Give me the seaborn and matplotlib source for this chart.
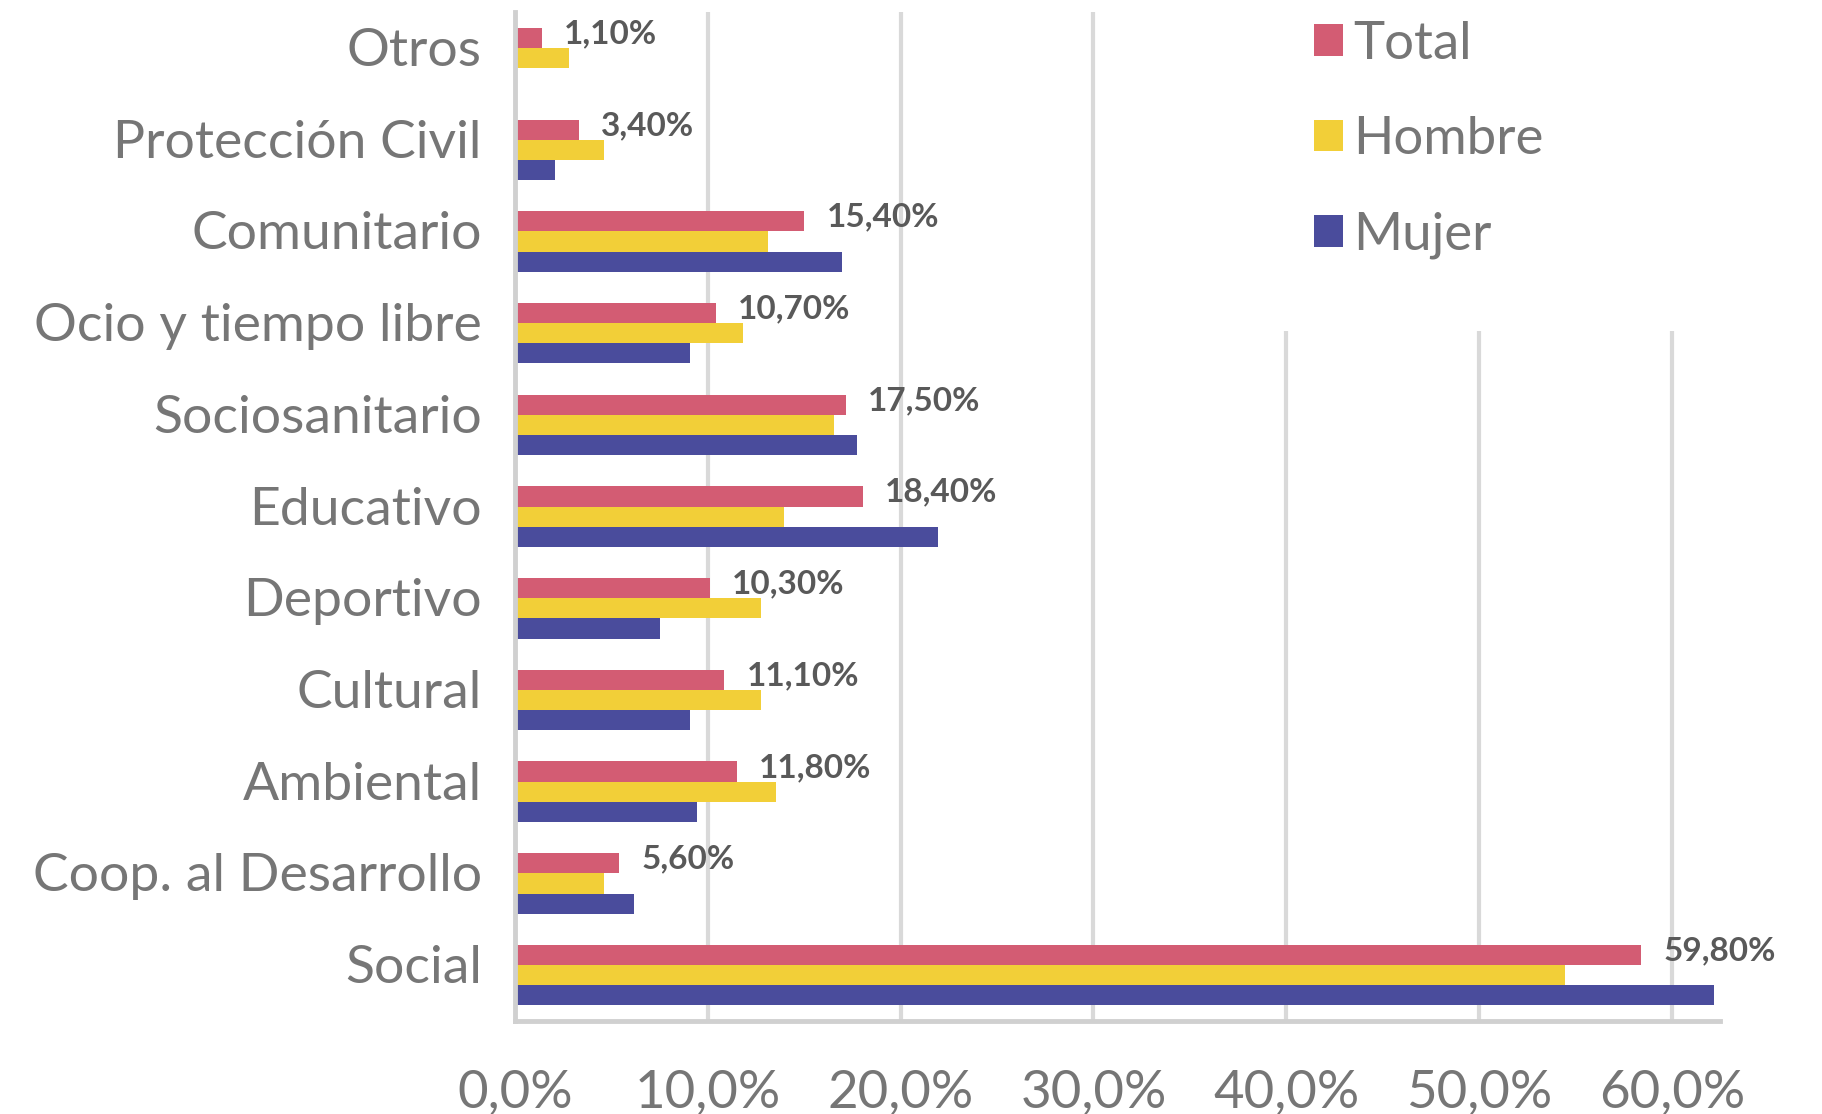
import pandas as pd
import matplotlib.pyplot as plt
import matplotlib.transforms as mtransforms
import seaborn as sns

# values (percent)
categorias = ['Otros', 'Protección Civil', 'Comunitario', 'Ocio y tiempo libre',
              'Sociosanitario', 'Educativo', 'Deportivo', 'Cultural', 'Ambiental',
              'Coop. al Desarrollo', 'Social']
total = [1.4, 3.3, 15.0, 10.4, 17.15, 18.05, 10.1, 10.85, 11.5, 5.4, 58.4]
hombre = [2.8, 4.6, 13.1, 11.8, 16.55, 13.95, 12.75, 12.75, 13.55, 4.6, 54.45]
mujer = [0.0, 2.05, 16.95, 9.05, 17.75, 21.95, 7.5, 9.05, 9.45, 6.15, 62.2]
total_labels = ['1,10%', '3,40%', '15,40%', '10,70%', '17,50%', '18,40%',
                '10,30%', '11,10%', '11,80%', '5,60%', '59,80%']
series = ['Total', 'Hombre', 'Mujer']
colores = ['#D35C73', '#F2CF38', '#4A4C9C']
xticks = [0, 10, 20, 30, 40, 50, 60]

df = pd.DataFrame({'categoria': categorias * 3,
                   'serie': [s for s in series for _ in categorias],
                   'valor': total + hombre + mujer})

sns.set_style('white')
plt.rcParams['font.family'] = ['Lato', 'DejaVu Sans']

fig = plt.figure(figsize=(18.22, 11.14), dpi=100)
ax = fig.add_axes([0.2827, 0.0835, 0.944 - 0.2827, 0.989 - 0.0835])

sns.barplot(data=df, x='valor', y='categoria', hue='serie', hue_order=series,
            palette=colores, orient='h', width=0.66, ax=ax, saturation=1,
            edgecolor='none', errorbar=None)

ax.set_xlim(0, 62.5)
ax.set_ylim(10.5, -0.5)
ax.set_xticks(xticks)
ax.set_xticklabels([f'{t:.1f}%'.replace('.', ',') for t in xticks])
ax.set_xlabel('')
ax.set_ylabel('')
ax.grid(axis='x', color='#D9D9D9', linewidth=3)
ax.set_axisbelow(True)
ax.tick_params(axis='x', length=0, pad=35, labelsize=38, labelcolor='#767676')
ax.tick_params(axis='y', length=0, pad=24, labelsize=38.5, labelcolor='#767676')
for s in ['top', 'right']:
    ax.spines[s].set_visible(False)
for s in ['left', 'bottom']:
    ax.spines[s].set_color('#D0D0D0')
    ax.spines[s].set_linewidth(3.5)

# category labels sit a little above the group centre
shift = mtransforms.ScaledTranslation(0, 8 / 72, fig.dpi_scale_trans)
for lab in ax.get_yticklabels():
    lab.set_transform(lab.get_transform() + shift)

anns = ax.bar_label(ax.containers[0], labels=total_labels, padding=16, fontsize=24,
                    fontweight='bold', color='#595959')
for a in anns:
    a.xyann = (a.xyann[0], 3)

# white area behind the legend hides the gridlines there
ax.add_patch(plt.Rectangle((0.629, 0.684), 0.4, 0.35, transform=ax.transAxes,
                           facecolor='white', edgecolor='none', zorder=0.8,
                           clip_on=False))

handles, labels = ax.get_legend_handles_labels()
leg = ax.legend(handles, labels, loc='upper left', bbox_to_anchor=(0.619, 1.044),
                fontsize=38, frameon=False, handlelength=0.55, handleheight=0.55,
                handletextpad=0.2, labelspacing=0.92, borderpad=0.5)
for t in leg.get_texts():
    t.set_color('#767676')

plt.savefig('out.png', dpi=100)
